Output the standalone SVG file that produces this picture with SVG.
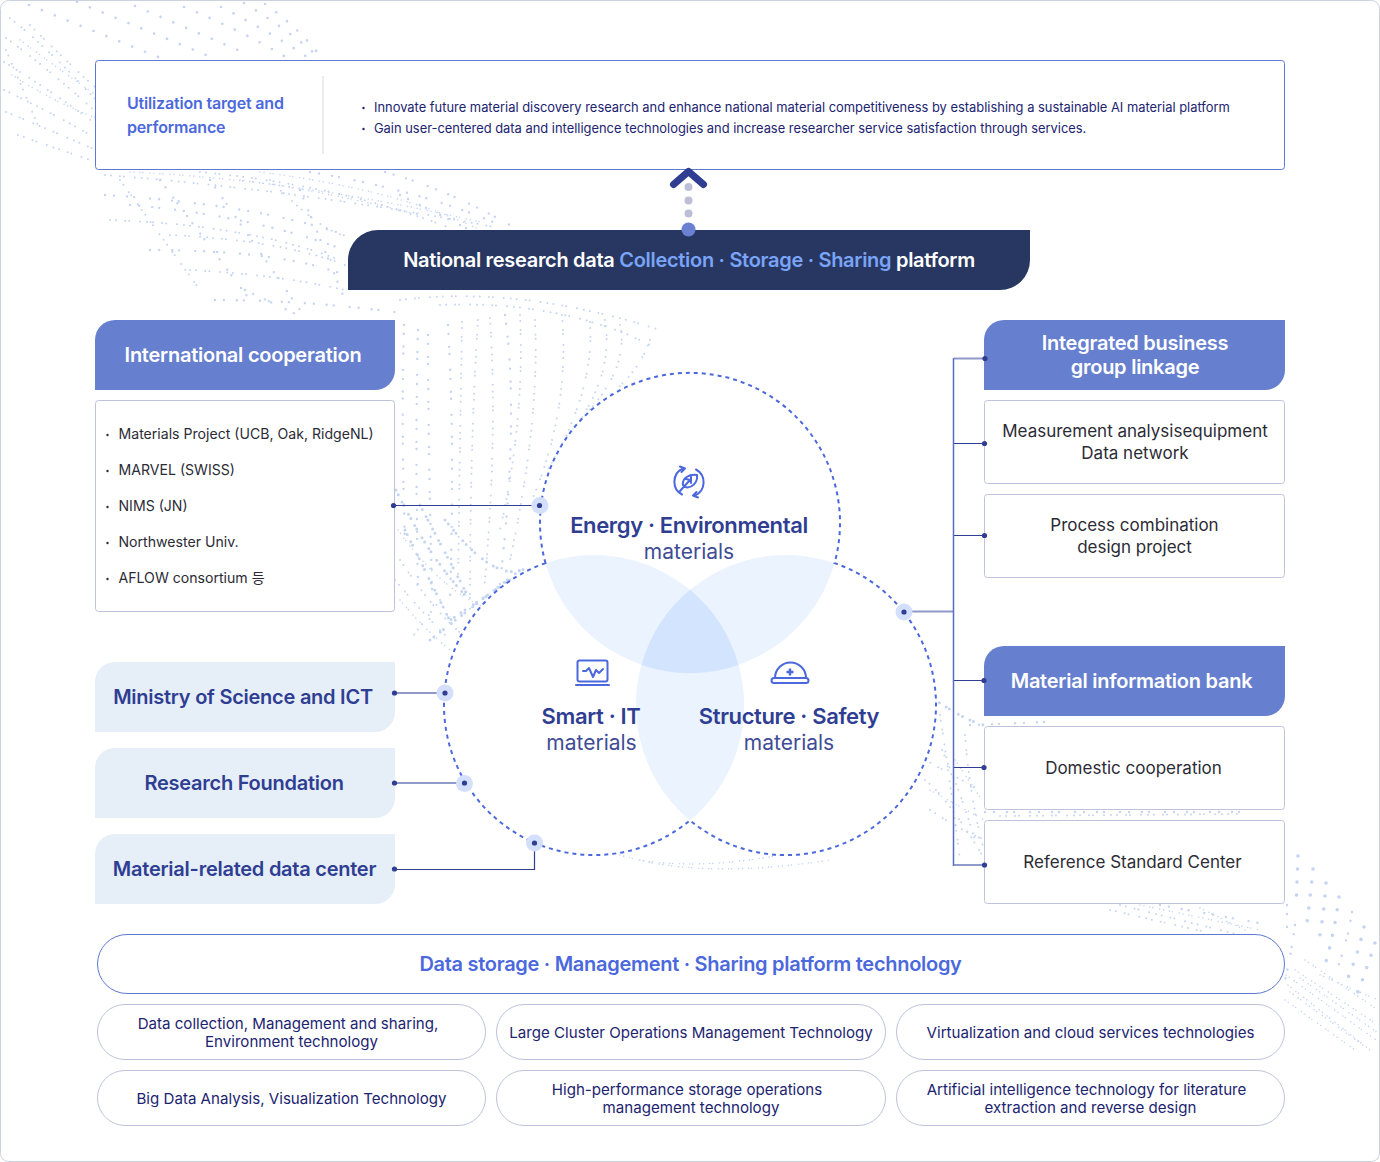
<svg xmlns="http://www.w3.org/2000/svg" width="1380" height="1162" viewBox="0 0 1380 1162">
<style>
text{font-family:"Inter","Noto Sans CJK KR","Noto Sans",sans-serif;text-anchor:middle}
.d{fill:none;stroke:#c5d5f1;stroke-linecap:round}
.s{stroke-width:2;stroke-dasharray:0 6 0 9 0 4 0 11 0 7}
.t{stroke-width:1.6;stroke-dasharray:0 4 0 6 0 3 0 7}
.m{stroke-width:2.7;stroke-dasharray:0 13.9}
.n{stroke-width:2.4;stroke-dasharray:0 9 0 13 0 7 0 16}
.c1{stroke-width:3;stroke-dasharray:0 5 0 8 0 4 0 10}
.b{stroke-width:3.6;stroke-dasharray:0 13}
.card{fill:#fff;stroke:#bfc2da;stroke-width:1}
.head{fill:#677fcf}
.soft{fill:#e6eef8}
.h{font-size:20px;font-weight:600;fill:#fff;letter-spacing:-.25px}
.p{font-size:20px;font-weight:600;fill:#2f3e92;letter-spacing:-.25px}
.c{font-size:17px;fill:#2b2b35}
.r{font-size:15.1px;fill:#1c2470}
.l{font-size:14.1px;fill:#2b2b35;text-anchor:start}
.u{font-size:12.900px;fill:#1c2470;text-anchor:start}
.vb{font-size:22px;font-weight:600;fill:#2f3e92;letter-spacing:-.36px}
.vr{font-size:21px;fill:#3f4c96}
.ic{fill:none;stroke:#4c68dd;stroke-width:2;stroke-linecap:round;stroke-linejoin:round}
.dk{fill:none;stroke:#2f3e92;stroke-width:1.2}
.lt{fill:none;stroke:#8f9acb;stroke-width:2}
.pt{fill:#2f3e92}
.halo{fill:#d3dffb}
</style>
<rect x="0.5" y="0.5" width="1379" height="1161" rx="8" fill="#fff" stroke="#ccd2de"/>
<g id="background-dots">
<path class="d m" d="M29 5L158 57"/><path class="d m" d="M77 2L211 57"/><path class="d m" d="M135 6L247 54"/><path class="d m" d="M184 7Q240 30 284 56"/><path class="d m" d="M221 7Q270 32 307 57"/><path class="d m" d="M244 3Q285 28 314 53"/><path class="d m" d="M265 4Q295 25 317 52"/>
<path class="d s" d="M10 18Q50 50 96 100"/><path class="d s" d="M6 38Q50 70 96 112"/><path class="d s" d="M4 62Q50 90 96 124"/><path class="d s" d="M4 90Q50 112 96 138"/><path class="d s" d="M6 112Q50 130 96 150"/><path class="d s" d="M18 135Q55 148 90 160"/><path class="d s" d="M30 25Q65 60 96 88"/><path class="d t" d="M20 40Q60 70 96 95"/><path class="d t" d="M12 75Q50 100 96 118"/><path class="d s" d="M6 50L40 130"/>
<path class="d s" d="M105 175Q300 190 500 228"/><path class="d t" d="M130 172Q300 180 480 222"/><path class="d s" d="M200 172Q340 185 450 228"/><path class="d t" d="M260 172Q400 190 480 230"/><path class="d n" d="M310 172Q420 190 500 225"/><path class="d n" d="M385 172Q450 190 515 228"/><path class="d n" d="M105 195Q260 205 345 235"/><path class="d s" d="M110 220Q250 225 340 260"/><path class="d n" d="M150 250Q280 250 345 275"/><path class="d s" d="M190 270Q280 275 345 290"/><path class="d n" d="M215 300Q300 300 395 312"/><path class="d s" d="M270 180Q330 240 350 235"/><path class="d n" d="M245 290L300 316"/><path class="d t" d="M240 180Q320 190 420 215"/><path class="d n" d="M130 205Q250 215 345 250"/><path class="d s" d="M170 235Q280 240 345 265"/><path class="d n" d="M160 180L250 300"/><path class="d n" d="M210 180L300 310"/><path class="d n" d="M300 190L345 300"/><path class="d s" d="M120 180L200 290"/><path class="d n" d="M400 195L470 230"/>
<path class="d s" d="M400 300Q520 285 660 330"/><path class="d s" d="M440 305Q560 300 650 345"/><path class="d n" d="M404 325Q401 420 405 545"/>
<path class="d n" d="M418 330Q415 440 418 585"/><path class="d n" d="M428 335Q428 440 432 590"/><path class="d n" d="M448 325Q455 440 450 600"/><path class="d s" d="M462 322Q460 440 458 580"/><path class="d s" d="M478 320Q470 440 470 610"/><path class="d n" d="M505 315Q520 420 498 600"/><path class="d s" d="M490 318Q498 440 484 590"/><path class="d s" d="M535 320Q540 420 510 560"/><path class="d s" d="M520 315Q525 420 500 530"/><path class="d s" d="M562 315Q570 410 532 500"/><path class="d s" d="M590 322Q595 390 548 470"/><path class="d s" d="M620 325Q630 370 580 420"/><path class="d s" d="M650 340Q640 370 610 395"/><path class="d s" d="M605 320Q615 380 565 440"/>
<path class="d c1" d="M396 490Q430 560 470 600"/><path class="d c1" d="M405 530L452 625"/><path class="d c1" d="M420 505L470 600"/><path class="d c1" d="M445 520Q500 590 530 565"/><path class="d s" d="M400 560Q440 620 470 640"/><path class="d c1" d="M430 640L520 570"/><path class="d s" d="M395 580Q420 610 445 635"/><path class="d c1" d="M510 580L450 620"/><path class="d t" d="M398 530Q440 590 490 610"/><path class="d t" d="M400 600Q420 625 450 650"/><path class="d s" d="M440 600L410 640"/>
<path class="d s" d="M940 715Q950 780 960 860"/><path class="d c1" d="M935 700Q965 720 984 725"/><path class="d s" d="M925 780Q950 800 985 860"/><path class="d s" d="M965 735Q970 800 984 850"/><path class="d s" d="M930 810Q960 830 985 840"/><path class="d s" d="M942 750Q960 790 975 840"/><path class="d s" d="M925 760L980 790"/><path class="d t" d="M930 790L984 820"/><path class="d t" d="M955 760L982 800"/><path class="d n" d="M970 725L1045 722"/><path class="d n" d="M985 812L1240 812"/><path class="d s" d="M1000 816L1240 814"/><path class="d s" d="M1120 905L1240 935"/><path class="d t" d="M1140 905L1260 930"/><path class="d n" d="M1160 905L1270 925"/><path class="d t" d="M1200 908L1245 930"/><path class="d s" d="M1110 910L1210 933"/>
<path class="d b" d="M1298 856L1296 907"/><path class="d b" d="M1313 869Q1310 900 1306 930"/><path class="d b" d="M1326 883Q1324 915 1318 945"/><path class="d b" d="M1339 897Q1335 930 1325 965"/><path class="d n" d="M1352 912Q1348 940 1335 975"/><path class="d b" d="M1364 927Q1358 955 1345 985"/><path class="d b" d="M1375 943Q1368 965 1355 1000"/><path class="d n" d="M1287 905L1287 930"/><path class="d n" d="M1295 925Q1290 960 1285 980"/>
<path class="d t" d="M1288 985L1370 1050"/><path class="d t" d="M1286 975L1376 1040"/><path class="d t" d="M1295 970L1378 1025"/><path class="d t" d="M1305 960L1378 1010"/><path class="d t" d="M1285 1000L1355 1050"/><path class="d t" d="M1320 975L1378 1000"/><path class="d t" d="M1290 992L1364 1046"/><path class="d t" d="M1300 978L1378 1033"/>
<path class="d t" d="M640 860Q700 870 780 855"/><path class="d t" d="M620 855Q700 880 830 860"/>
</g>
<g id="venn">
<path d="M545.5 563.1A150 150 0 1 1 834.5 563.1A150 150 0 1 1 690 820.3A150 150 0 1 1 545.5 563.1Z" fill="#fff" fill-opacity=".93"/>
<path d="M545.5 563.1A150 150 0 0 1 738.5 664.9A150 150 0 0 1 545.5 563.1Z" fill="#eaf3fe"/>
<path d="M834.5 563.1A150 150 0 0 0 641.5 664.9A150 150 0 0 0 834.5 563.1Z" fill="#eaf3fe"/>
<path d="M690 589.7A150 150 0 0 1 690 820.3A150 150 0 0 1 690 589.7Z" fill="#eaf3fe"/>
<path d="M690 589.7A150 150 0 0 1 738.5 664.9A150 150 0 0 1 641.5 664.9A150 150 0 0 1 690 589.7Z" fill="#d3e5fe"/>
<path d="M545.5 563.1A150 150 0 1 1 834.5 563.1A150 150 0 1 1 690 820.3A150 150 0 1 1 545.5 563.1Z" fill="none" stroke="#4c68dd" stroke-width="2" stroke-dasharray="4 4"/>
</g>
<g id="connectors">
<path class="lt" d="M954 358.5H985M904 611.5H954M954 865H985"/>
<path class="lt" d="M395 693H445M395 783H464"/>
<path class="dk" d="M393 505.500H540M395 869.500H534.500V843"/>
<path class="dk" d="M954 443.500H985M954 535.500H985M954 680.500H985M954 767.500H985"/>
<path d="M953.500 358V866" fill="none" stroke="#5a6cc0" stroke-width="1.500"/>
</g>
<g id="top-box">
<rect x="95.500" y="60.500" width="1189" height="109" rx="3" fill="#fff" stroke="#5f78d1"/>
<path d="M323 76V154" stroke="#ececec" stroke-width="2"/>
<text x="127" y="109" font-size="16" font-weight="600" fill="#4c68dd" letter-spacing="-.18" style="text-anchor:start">Utilization target and</text>
<text x="127" y="133" font-size="16" font-weight="600" fill="#4c68dd" letter-spacing="-.18" style="text-anchor:start">performance</text>
<circle cx="363.500" cy="108" r="1.200" fill="#1c2470"/><circle cx="363.500" cy="129" r="1.200" fill="#1c2470"/>
<text class="u" x="374" y="112">Innovate future material discovery research and enhance national material competitiveness by establishing a sustainable AI material platform</text>
<text class="u" x="374" y="133">Gain user-centered data and intelligence technologies and increase researcher service satisfaction through services.</text>
</g>
<g id="platform-banner">
<circle cx="688.500" cy="187" r="4" fill="#bcbfd6"/><circle cx="688.500" cy="200.500" r="4" fill="#bcbfd6"/><circle cx="688.500" cy="213.500" r="4" fill="#bcbfd6"/>
<path d="M673.500 184.500L688.500 171.500L703.500 184.500" fill="none" stroke="#2f3e92" stroke-width="7" stroke-linecap="round" stroke-linejoin="round"/>
<path d="M378 230H1030V260A30 30 0 0 1 1000 290H348V260A30 30 0 0 1 378 230Z" fill="#283762"/>
<circle cx="688.500" cy="229.500" r="7" fill="#6b80d0"/>
<text x="689" y="267" font-size="20" font-weight="600" fill="#fff" letter-spacing="-.3">National research data <tspan fill="#79a4f7">Collection · Storage · Sharing</tspan> platform</text>
</g>
<g id="international-cooperation">
<path class="head" d="M115 320H395V370A20 20 0 0 1 375 390H95V340A20 20 0 0 1 115 320Z"/>
<text class="h" x="243" y="362">International cooperation</text>
</g>
<g id="international-list">
<rect class="card" x="95.500" y="400.500" width="299" height="211" rx="3"/>
<g fill="#2b2b35"><circle cx="107.500" cy="435" r="1.200"/><circle cx="107.500" cy="471" r="1.200"/><circle cx="107.500" cy="507" r="1.200"/><circle cx="107.500" cy="543" r="1.200"/><circle cx="107.500" cy="579" r="1.200"/></g>
<text class="l" x="118.500" y="439">Materials Project (UCB, Oak, RidgeNL)</text>
<text class="l" x="118.500" y="475">MARVEL (SWISS)</text>
<text class="l" x="118.500" y="511">NIMS (JN)</text>
<text class="l" x="118.500" y="547">Northwester Univ.</text>
<text class="l" x="118.500" y="583">AFLOW consortium 등</text>
</g>
<g id="ministry"><path class="soft" d="M115 662H395V712A20 20 0 0 1 375 732H95V682A20 20 0 0 1 115 662Z"/><text class="p" x="243" y="704">Ministry of Science and ICT</text></g>
<g id="research-foundation"><path class="soft" d="M115 748H395V798A20 20 0 0 1 375 818H95V768A20 20 0 0 1 115 748Z"/><text class="p" x="244" y="790">Research Foundation</text></g>
<g id="data-center"><path class="soft" d="M115 834H395V884A20 20 0 0 1 375 904H95V854A20 20 0 0 1 115 834Z"/><text class="p" x="244.500" y="876">Material-related data center</text></g>
<g id="energy">
<g class="ic" transform="translate(689 482)">
<path d="M-6-13.500A14.500 14.500 0 0 0-7 12.500M6 13.500A14.500 14.500 0 0 0 7-12.500"/>
<path d="M-9-15.500L-4-13.500L-7.500-10M9 15.500L4 13.500L7.500 10"/>
<path d="M-6 3C-7-4 0-8 8-7C9 0 3 7-4 5ZM-9 9L1-2M2-6V1M-3-3L1-2"/>
</g>
<text class="vb" x="689" y="533">Energy · Environmental</text>
<text class="vr" x="689" y="559">materials</text>
</g>
<g id="smart">
<rect class="ic" x="577.500" y="660.500" width="30" height="21" rx="2"/>
<path class="ic" d="M576 685H609" stroke-width="1.800"/>
<path class="ic" d="M583 671H586L589 668L593 677L596 670L599 673L603 669" stroke-width="1.500"/>
<text class="vb" x="591" y="724">Smart · IT</text>
<text class="vr" x="591.500" y="750">materials</text>
</g>
<g id="structure">
<path class="ic" d="M775 678A15.500 15.500 0 0 1 806 678"/>
<rect class="ic" x="771.500" y="678" width="37" height="5" rx="2.500"/>
<path d="M790 668.500V675.500M786.500 672H793.500" fill="none" stroke="#4c68dd" stroke-width="2.400"/>
<text class="vb" x="789" y="724">Structure · Safety</text>
<text class="vr" x="789" y="750">materials</text>
</g>
<g id="business-group"><path class="head" d="M1004 320H1285V370A20 20 0 0 1 1265 390H984V340A20 20 0 0 1 1004 320Z"/><text class="h" x="1135" y="350">Integrated business</text><text class="h" x="1135" y="374">group linkage</text></g>
<g id="measurement"><rect class="card" x="984.500" y="400.500" width="300" height="83" rx="3"/><text class="c" x="1135" y="437">Measurement analysisequipment</text><text class="c" x="1135" y="459">Data network</text></g>
<g id="process"><rect class="card" x="984.500" y="494.500" width="300" height="83" rx="3"/><text class="c" x="1134.500" y="531">Process combination</text><text class="c" x="1134.500" y="553">design project</text></g>
<g id="material-bank"><path class="head" d="M1004 646H1285V696A20 20 0 0 1 1265 716H984V666A20 20 0 0 1 1004 646Z"/><text class="h" x="1131.500" y="688">Material information bank</text></g>
<g id="domestic"><rect class="card" x="984.500" y="726.500" width="300" height="83" rx="3"/><text class="c" x="1133.500" y="774">Domestic cooperation</text></g>
<g id="reference"><rect class="card" x="984.500" y="820.500" width="300" height="83" rx="3"/><text class="c" x="1132.500" y="868">Reference Standard Center</text></g>
<g id="anchors">
<circle class="halo" cx="540" cy="505.500" r="8.500"/><circle class="halo" cx="904" cy="612" r="8.500"/><circle class="halo" cx="445" cy="693" r="8.500"/><circle class="halo" cx="464.500" cy="783.500" r="8.500"/><circle class="halo" cx="534.500" cy="843" r="8.500"/>
<g class="pt"><circle cx="539.500" cy="505.500" r="2.600"/><circle cx="393.500" cy="505.500" r="2.600"/><circle cx="904" cy="612" r="2.600"/><circle cx="445" cy="693" r="2.600"/><circle cx="464.500" cy="783" r="2.600"/><circle cx="534.500" cy="843" r="2.600"/><circle cx="394.500" cy="693" r="2.600"/><circle cx="394.500" cy="783" r="2.600"/><circle cx="394.500" cy="869" r="2.600"/><circle cx="985" cy="358.500" r="2.600"/><circle cx="984.500" cy="443.500" r="2.600"/><circle cx="984.500" cy="535.500" r="2.600"/><circle cx="984" cy="680.500" r="2.600"/><circle cx="984" cy="767.500" r="2.600"/><circle cx="984.500" cy="865" r="2.600"/></g>
</g>
<g id="technology-platform"><rect x="97.500" y="934.500" width="1187" height="59" rx="29.500" fill="#fff" stroke="#5f78d1"/><text x="690.500" y="971" font-size="20" font-weight="600" fill="#4c68dd" letter-spacing="-.29">Data storage · Management · Sharing platform technology</text></g>
<g id="tech-1"><rect class="card" x="97.500" y="1004.500" width="388" height="55" rx="27.500"/><text class="r" x="288" y="1029">Data collection, Management and sharing,</text><text class="r" x="291.500" y="1047">Environment technology</text></g>
<g id="tech-2"><rect class="card" x="496.500" y="1004.500" width="389" height="55" rx="27.500"/><text class="r" x="691" y="1038">Large Cluster Operations Management Technology</text></g>
<g id="tech-3"><rect class="card" x="896.500" y="1004.500" width="388" height="55" rx="27.500"/><text class="r" x="1090.500" y="1038">Virtualization and cloud services technologies</text></g>
<g id="tech-4"><rect class="card" x="97.500" y="1070.500" width="388" height="55" rx="27.500"/><text class="r" x="291.500" y="1104">Big Data Analysis, Visualization Technology</text></g>
<g id="tech-5"><rect class="card" x="496.500" y="1070.500" width="389" height="55" rx="27.500"/><text class="r" x="687" y="1095">High-performance storage operations</text><text class="r" x="691" y="1113">management technology</text></g>
<g id="tech-6"><rect class="card" x="896.500" y="1070.500" width="388" height="55" rx="27.500"/><text class="r" x="1086.500" y="1095">Artificial intelligence technology for literature</text><text class="r" x="1090.500" y="1113">extraction and reverse design</text></g>
</svg>
